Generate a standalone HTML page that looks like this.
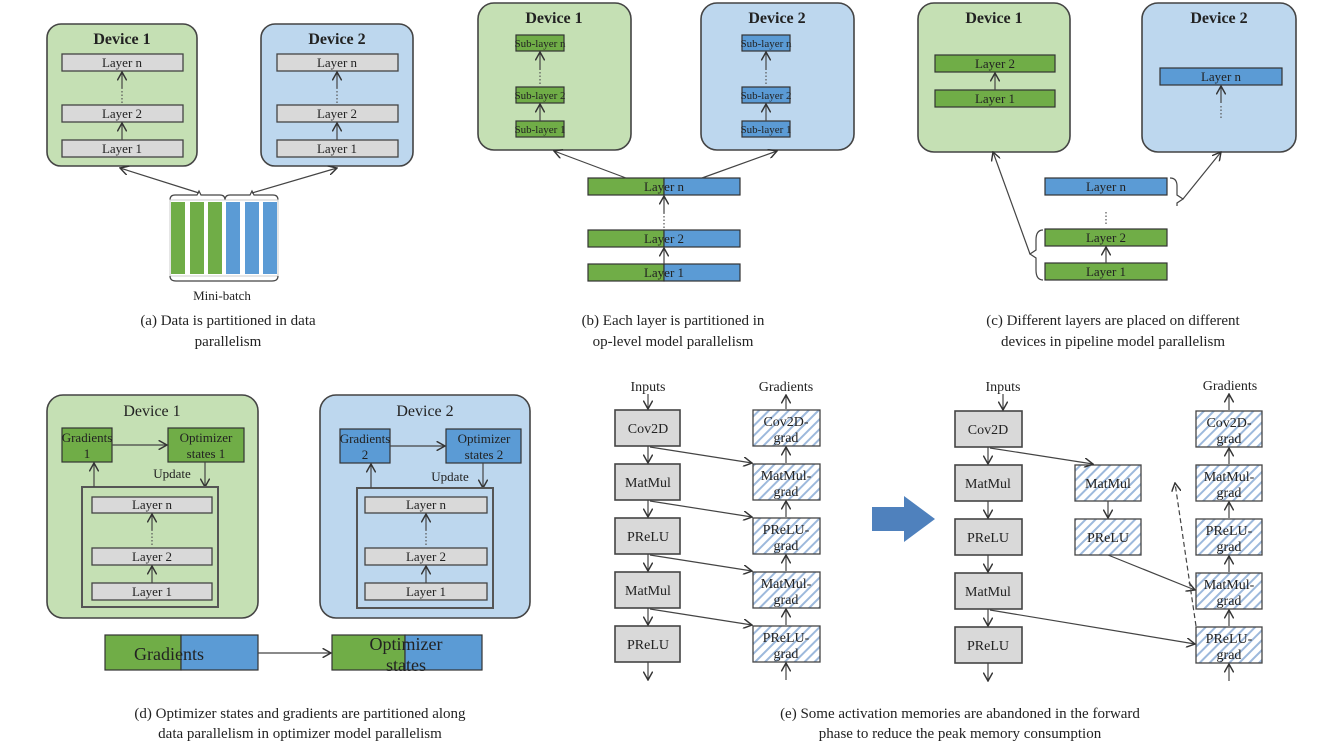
<!DOCTYPE html>
<html><head><meta charset="utf-8"><style>
html,body{margin:0;padding:0;background:#fff;width:1323px;height:748px;overflow:hidden}
svg{display:block;font-family:"Liberation Serif",serif}
.dg{fill:#c5e0b4;stroke:#444;stroke-width:1.6}
.db{fill:#bdd7ee;stroke:#444;stroke-width:1.6}
.ly{fill:#d9d9d9;stroke:#444;stroke-width:1.3}
.g{fill:#70ad47;stroke:#333;stroke-width:1.2}
.b{fill:#5b9bd5;stroke:#333;stroke-width:1.2}
.ln{stroke:#444;stroke-width:1.2;fill:none}
.dot{stroke:#555;stroke-width:1.2;stroke-dasharray:1.5 2;fill:none}
.h{fill:url(#hat);stroke:#444;stroke-width:1.3}
.op{fill:#d9d9d9;stroke:#444;stroke-width:1.6}
text{fill:#222}
</style></head><body>
<svg width="1323" height="748" viewBox="0 0 1323 748">
<defs>
<marker id="a" viewBox="0 0 10 10" refX="9" refY="5" markerWidth="8" markerHeight="8" orient="auto-start-reverse"><path d="M0,0 L9,5 L0,10" fill="none" stroke="#333" stroke-width="1.5"/></marker>
<pattern id="hat" width="7" height="7" patternUnits="userSpaceOnUse" patternTransform="rotate(45)"><rect width="7" height="7" fill="#fff"/><rect width="2" height="7" fill="#9db9dc"/></pattern>
</defs>

<!-- (a) -->
<rect class="dg" x="47" y="24" width="150" height="142" rx="14"/>
<text x="122" y="44" font-size="16" font-weight="bold" text-anchor="middle">Device 1</text>
<rect class="ly" x="62" y="54" width="121" height="17"/><text x="122" y="67" font-size="13" text-anchor="middle">Layer n</text>
<rect class="ly" x="62" y="105" width="121" height="17"/><text x="122" y="118" font-size="13" text-anchor="middle">Layer 2</text>
<rect class="ly" x="62" y="140" width="121" height="17"/><text x="122" y="153" font-size="13" text-anchor="middle">Layer 1</text>
<line class="ln" x1="122" y1="140" x2="122" y2="123" marker-end="url(#a)"/><line class="dot" x1="122" y1="103" x2="122" y2="88"/><line class="ln" x1="122" y1="88" x2="122" y2="72" marker-end="url(#a)"/>
<rect class="db" x="261" y="24" width="152" height="142" rx="14"/>
<text x="337" y="44" font-size="16" font-weight="bold" text-anchor="middle">Device 2</text>
<rect class="ly" x="277" y="54" width="121" height="17"/><text x="337" y="67" font-size="13" text-anchor="middle">Layer n</text>
<rect class="ly" x="277" y="105" width="121" height="17"/><text x="337" y="118" font-size="13" text-anchor="middle">Layer 2</text>
<rect class="ly" x="277" y="140" width="121" height="17"/><text x="337" y="153" font-size="13" text-anchor="middle">Layer 1</text>
<line class="ln" x1="337" y1="140" x2="337" y2="123" marker-end="url(#a)"/><line class="dot" x1="337" y1="103" x2="337" y2="88"/><line class="ln" x1="337" y1="88" x2="337" y2="72" marker-end="url(#a)"/>
<line class="ln" x1="199" y1="193" x2="120" y2="168" marker-end="url(#a)"/>
<line class="ln" x1="252" y1="193" x2="337" y2="168" marker-end="url(#a)"/>
<path class="ln" d="M170,200 Q170,195 175,195 L197,195 L199,191 L201,195 L220,195 Q225,195 225,200 Q225,195 230,195 L250,195 L252,191 L254,195 L273,195 Q278,195 278,200"/>
<rect x="170" y="200" width="108" height="76" fill="#fff" stroke="#ccc"/>
<rect x="171" y="202" width="14" height="72" fill="#70ad47"/><rect x="190" y="202" width="14" height="72" fill="#70ad47"/><rect x="208" y="202" width="14" height="72" fill="#70ad47"/>
<rect x="226" y="202" width="14" height="72" fill="#5b9bd5"/><rect x="245" y="202" width="14" height="72" fill="#5b9bd5"/><rect x="263" y="202" width="14" height="72" fill="#5b9bd5"/>
<path class="ln" d="M170,276 Q170,281 176,281 L272,281 Q278,281 278,276"/>
<text x="222" y="300" font-size="13" text-anchor="middle">Mini-batch</text>
<text x="228" y="325" font-size="15" text-anchor="middle">(a) Data is partitioned in data</text>
<text x="228" y="346" font-size="15" text-anchor="middle">parallelism</text>

<!-- (b) -->
<rect class="dg" x="478" y="3" width="153" height="147" rx="16"/>
<text x="554" y="23" font-size="16" font-weight="bold" text-anchor="middle">Device 1</text>
<rect class="db" x="701" y="3" width="153" height="147" rx="16"/>
<text x="777" y="23" font-size="16" font-weight="bold" text-anchor="middle">Device 2</text>
<g font-size="11" text-anchor="middle">
<rect class="g" x="516" y="35" width="48" height="16"/><text x="540" y="47">Sub-layer n</text>
<rect class="g" x="516" y="87" width="48" height="16"/><text x="540" y="99">Sub-layer 2</text>
<rect class="g" x="516" y="121" width="48" height="16"/><text x="540" y="133">Sub-layer 1</text>
<rect class="b" x="742" y="35" width="48" height="16"/><text x="766" y="47">Sub-layer n</text>
<rect class="b" x="742" y="87" width="48" height="16"/><text x="766" y="99">Sub-layer 2</text>
<rect class="b" x="742" y="121" width="48" height="16"/><text x="766" y="133">Sub-layer 1</text>
</g>
<line class="ln" x1="540" y1="121" x2="540" y2="104" marker-end="url(#a)"/><line class="dot" x1="540" y1="84" x2="540" y2="70"/><line class="ln" x1="540" y1="70" x2="540" y2="52" marker-end="url(#a)"/>
<line class="ln" x1="766" y1="121" x2="766" y2="104" marker-end="url(#a)"/><line class="dot" x1="766" y1="84" x2="766" y2="70"/><line class="ln" x1="766" y1="70" x2="766" y2="52" marker-end="url(#a)"/>
<g font-size="13" text-anchor="middle">
<rect class="g" x="588" y="178" width="76" height="17"/><rect class="b" x="664" y="178" width="76" height="17"/><text x="664" y="191">Layer n</text>
<rect class="g" x="588" y="230" width="76" height="17"/><rect class="b" x="664" y="230" width="76" height="17"/><text x="664" y="243">Layer 2</text>
<rect class="g" x="588" y="264" width="76" height="17"/><rect class="b" x="664" y="264" width="76" height="17"/><text x="664" y="277">Layer 1</text>
</g>
<line class="ln" x1="664" y1="264" x2="664" y2="248" marker-end="url(#a)"/><line class="dot" x1="664" y1="228" x2="664" y2="213"/><line class="ln" x1="664" y1="213" x2="664" y2="196" marker-end="url(#a)"/>
<line class="ln" x1="626" y1="178" x2="554" y2="151" marker-end="url(#a)"/>
<line class="ln" x1="702" y1="178" x2="777" y2="151" marker-end="url(#a)"/>
<text x="673" y="325" font-size="15" text-anchor="middle">(b) Each layer is partitioned in</text>
<text x="673" y="346" font-size="15" text-anchor="middle">op-level model parallelism</text>

<!-- (c) -->
<rect class="dg" x="918" y="3" width="152" height="149" rx="16"/>
<text x="994" y="23" font-size="16" font-weight="bold" text-anchor="middle">Device 1</text>
<rect class="db" x="1142" y="3" width="154" height="149" rx="16"/>
<text x="1219" y="23" font-size="16" font-weight="bold" text-anchor="middle">Device 2</text>
<g font-size="13" text-anchor="middle">
<rect class="g" x="935" y="55" width="120" height="17"/><text x="995" y="68">Layer 2</text>
<rect class="g" x="935" y="90" width="120" height="17"/><text x="995" y="103">Layer 1</text>
<rect class="b" x="1160" y="68" width="122" height="17"/><text x="1221" y="81">Layer n</text>
<rect class="b" x="1045" y="178" width="122" height="17"/><text x="1106" y="191">Layer n</text>
<rect class="g" x="1045" y="229" width="122" height="17"/><text x="1106" y="242">Layer 2</text>
<rect class="g" x="1045" y="263" width="122" height="17"/><text x="1106" y="276">Layer 1</text>
</g>
<line class="ln" x1="995" y1="90" x2="995" y2="73" marker-end="url(#a)"/>
<line class="ln" x1="1221" y1="103" x2="1221" y2="86" marker-end="url(#a)"/><line class="dot" x1="1221" y1="106" x2="1221" y2="118"/>
<line class="ln" x1="1106" y1="263" x2="1106" y2="247" marker-end="url(#a)"/><line class="dot" x1="1106" y1="212" x2="1106" y2="224"/>
<path class="ln" d="M1043,230 Q1036,230 1036,240 L1036,250 L1030,254 L1036,258 L1036,270 Q1036,280 1043,280"/>
<path class="ln" d="M1170,178 Q1177,178 1177,186 L1177,195 L1183,199 L1177,203 L1177,206"/>
<line class="ln" x1="1030" y1="254" x2="993" y2="152" marker-end="url(#a)"/>
<line class="ln" x1="1183" y1="199" x2="1221" y2="152" marker-end="url(#a)"/>
<text x="1113" y="325" font-size="15" text-anchor="middle">(c) Different layers are placed on different</text>
<text x="1113" y="346" font-size="15" text-anchor="middle">devices in pipeline model parallelism</text>

<!-- (d) -->
<rect class="dg" x="47" y="395" width="211" height="223" rx="16"/>
<text x="152" y="416" font-size="16" text-anchor="middle">Device 1</text>
<rect class="g" x="62" y="428" width="50" height="34"/><text x="87" y="442" font-size="13" text-anchor="middle">Gradients</text><text x="87" y="458" font-size="13" text-anchor="middle">1</text>
<rect class="g" x="168" y="428" width="76" height="34"/><text x="206" y="442" font-size="13" text-anchor="middle">Optimizer</text><text x="206" y="458" font-size="13" text-anchor="middle">states 1</text>
<line class="ln" x1="112" y1="445" x2="167" y2="445" marker-end="url(#a)"/>
<text x="172" y="478" font-size="13" text-anchor="middle">Update</text>
<line class="ln" x1="205" y1="462" x2="205" y2="487" marker-end="url(#a)"/>
<rect x="82" y="487" width="136" height="120" fill="none" stroke="#555" stroke-width="2"/>
<line class="ln" x1="94" y1="487" x2="94" y2="463" marker-end="url(#a)"/>
<g font-size="13" text-anchor="middle">
<rect class="ly" x="92" y="497" width="120" height="16"/><text x="152" y="509">Layer n</text>
<rect class="ly" x="92" y="548" width="120" height="17"/><text x="152" y="561">Layer 2</text>
<rect class="ly" x="92" y="583" width="120" height="17"/><text x="152" y="596">Layer 1</text>
</g>
<line class="ln" x1="152" y1="583" x2="152" y2="566" marker-end="url(#a)"/><line class="dot" x1="152" y1="545" x2="152" y2="530"/><line class="ln" x1="152" y1="530" x2="152" y2="514" marker-end="url(#a)"/>
<rect class="db" x="320" y="395" width="210" height="223" rx="16"/>
<text x="425" y="416" font-size="16" text-anchor="middle">Device 2</text>
<rect class="b" x="340" y="429" width="50" height="34"/><text x="365" y="443" font-size="13" text-anchor="middle">Gradients</text><text x="365" y="459" font-size="13" text-anchor="middle">2</text>
<rect class="b" x="446" y="429" width="75" height="34"/><text x="484" y="443" font-size="13" text-anchor="middle">Optimizer</text><text x="484" y="459" font-size="13" text-anchor="middle">states 2</text>
<line class="ln" x1="390" y1="446" x2="445" y2="446" marker-end="url(#a)"/>
<text x="450" y="481" font-size="13" text-anchor="middle">Update</text>
<line class="ln" x1="483" y1="463" x2="483" y2="488" marker-end="url(#a)"/>
<rect x="357" y="488" width="136" height="120" fill="none" stroke="#555" stroke-width="2"/>
<line class="ln" x1="371" y1="488" x2="371" y2="464" marker-end="url(#a)"/>
<g font-size="13" text-anchor="middle">
<rect class="ly" x="365" y="497" width="122" height="16"/><text x="426" y="509">Layer n</text>
<rect class="ly" x="365" y="548" width="122" height="17"/><text x="426" y="561">Layer 2</text>
<rect class="ly" x="365" y="583" width="122" height="17"/><text x="426" y="596">Layer 1</text>
</g>
<line class="ln" x1="426" y1="583" x2="426" y2="566" marker-end="url(#a)"/><line class="dot" x1="426" y1="545" x2="426" y2="530"/><line class="ln" x1="426" y1="530" x2="426" y2="514" marker-end="url(#a)"/>
<rect class="g" x="105" y="635" width="76" height="35"/><rect class="b" x="181" y="635" width="77" height="35"/>
<text x="169" y="660" font-size="18" text-anchor="middle">Gradients</text>
<line class="ln" x1="258" y1="653" x2="331" y2="653" marker-end="url(#a)"/>
<rect class="g" x="332" y="635" width="73" height="35"/><rect class="b" x="405" y="635" width="77" height="35"/>
<text x="406" y="650" font-size="18" text-anchor="middle">Optimizer</text><text x="406" y="671" font-size="18" text-anchor="middle">states</text>
<text x="300" y="718" font-size="15" text-anchor="middle">(d) Optimizer states and gradients are partitioned along</text>
<text x="300" y="738" font-size="15" text-anchor="middle">data parallelism in optimizer model parallelism</text>

<!-- (e) left -->
<g font-size="14" text-anchor="middle">
<text x="648" y="391">Inputs</text>
<text x="786" y="391">Gradients</text>
<rect class="op" x="615" y="410" width="65" height="36"/><text x="648" y="433">Cov2D</text>
<rect class="op" x="615" y="464" width="65" height="36"/><text x="648" y="487">MatMul</text>
<rect class="op" x="615" y="518" width="65" height="36"/><text x="648" y="541">PReLU</text>
<rect class="op" x="615" y="572" width="65" height="36"/><text x="648" y="595">MatMul</text>
<rect class="op" x="615" y="626" width="65" height="36"/><text x="648" y="649">PReLU</text>
<rect class="h" x="753" y="410" width="67" height="36"/><text x="786" y="426">Cov2D-</text><text x="786" y="442">grad</text>
<rect class="h" x="753" y="464" width="67" height="36"/><text x="786" y="480">MatMul-</text><text x="786" y="496">grad</text>
<rect class="h" x="753" y="518" width="67" height="36"/><text x="786" y="534">PReLU-</text><text x="786" y="550">grad</text>
<rect class="h" x="753" y="572" width="67" height="36"/><text x="786" y="588">MatMul-</text><text x="786" y="604">grad</text>
<rect class="h" x="753" y="626" width="67" height="36"/><text x="786" y="642">PReLU-</text><text x="786" y="658">grad</text>
</g>
<g class="ln">
<line x1="648" y1="394" x2="648" y2="409" marker-end="url(#a)"/>
<line x1="648" y1="446" x2="648" y2="463" marker-end="url(#a)"/>
<line x1="648" y1="500" x2="648" y2="517" marker-end="url(#a)"/>
<line x1="648" y1="554" x2="648" y2="571" marker-end="url(#a)"/>
<line x1="648" y1="608" x2="648" y2="625" marker-end="url(#a)"/>
<line x1="648" y1="662" x2="648" y2="680" marker-end="url(#a)"/>
<line x1="786" y1="409" x2="786" y2="395" marker-end="url(#a)"/>
<line x1="786" y1="463" x2="786" y2="447" marker-end="url(#a)"/>
<line x1="786" y1="517" x2="786" y2="501" marker-end="url(#a)"/>
<line x1="786" y1="571" x2="786" y2="555" marker-end="url(#a)"/>
<line x1="786" y1="625" x2="786" y2="609" marker-end="url(#a)"/>
<line x1="786" y1="680" x2="786" y2="663" marker-end="url(#a)"/>
<line x1="650" y1="447" x2="752" y2="463" marker-end="url(#a)"/>
<line x1="650" y1="501" x2="752" y2="517" marker-end="url(#a)"/>
<line x1="650" y1="555" x2="752" y2="571" marker-end="url(#a)"/>
<line x1="650" y1="609" x2="752" y2="625" marker-end="url(#a)"/>
</g>
<path d="M872,507 L904,507 L904,496 L935,519 L904,542 L904,531 L872,531 Z" fill="#4f81bd"/>
<!-- (e) right -->
<g font-size="14" text-anchor="middle">
<text x="1003" y="391">Inputs</text>
<text x="1230" y="390">Gradients</text>
<rect class="op" x="955" y="411" width="67" height="36"/><text x="988" y="434">Cov2D</text>
<rect class="op" x="955" y="465" width="67" height="36"/><text x="988" y="488">MatMul</text>
<rect class="op" x="955" y="519" width="67" height="36"/><text x="988" y="542">PReLU</text>
<rect class="op" x="955" y="573" width="67" height="36"/><text x="988" y="596">MatMul</text>
<rect class="op" x="955" y="627" width="67" height="36"/><text x="988" y="650">PReLU</text>
<rect class="h" x="1075" y="465" width="66" height="36"/><text x="1108" y="488">MatMul</text>
<rect class="h" x="1075" y="519" width="66" height="36"/><text x="1108" y="542">PReLU</text>
<rect class="h" x="1196" y="411" width="66" height="36"/><text x="1229" y="427">Cov2D-</text><text x="1229" y="443">grad</text>
<rect class="h" x="1196" y="465" width="66" height="36"/><text x="1229" y="481">MatMul-</text><text x="1229" y="497">grad</text>
<rect class="h" x="1196" y="519" width="66" height="36"/><text x="1229" y="535">PReLU-</text><text x="1229" y="551">grad</text>
<rect class="h" x="1196" y="573" width="66" height="36"/><text x="1229" y="589">MatMul-</text><text x="1229" y="605">grad</text>
<rect class="h" x="1196" y="627" width="66" height="36"/><text x="1229" y="643">PReLU-</text><text x="1229" y="659">grad</text>
</g>
<g class="ln">
<line x1="1003" y1="394" x2="1003" y2="410" marker-end="url(#a)"/>
<line x1="988" y1="447" x2="988" y2="464" marker-end="url(#a)"/>
<line x1="988" y1="501" x2="988" y2="518" marker-end="url(#a)"/>
<line x1="988" y1="555" x2="988" y2="572" marker-end="url(#a)"/>
<line x1="988" y1="609" x2="988" y2="626" marker-end="url(#a)"/>
<line x1="988" y1="663" x2="988" y2="681" marker-end="url(#a)"/>
<line x1="1229" y1="410" x2="1229" y2="394" marker-end="url(#a)"/>
<line x1="1229" y1="464" x2="1229" y2="448" marker-end="url(#a)"/>
<line x1="1229" y1="518" x2="1229" y2="502" marker-end="url(#a)"/>
<line x1="1229" y1="572" x2="1229" y2="556" marker-end="url(#a)"/>
<line x1="1229" y1="626" x2="1229" y2="610" marker-end="url(#a)"/>
<line x1="1229" y1="681" x2="1229" y2="664" marker-end="url(#a)"/>
<line x1="1108" y1="501" x2="1108" y2="518" marker-end="url(#a)"/>
<line x1="990" y1="448" x2="1093" y2="464" marker-end="url(#a)"/>
<line x1="1108" y1="555" x2="1195" y2="590" marker-end="url(#a)"/>
<line x1="990" y1="610" x2="1195" y2="644" marker-end="url(#a)"/>
<path d="M1196,626 L1175,483" stroke-dasharray="5 3" marker-end="url(#a)"/>
</g>
<text x="960" y="718" font-size="15" text-anchor="middle">(e) Some activation memories are abandoned in the forward</text>
<text x="960" y="738" font-size="15" text-anchor="middle">phase to reduce the peak memory consumption</text>
</svg>
</body></html>
